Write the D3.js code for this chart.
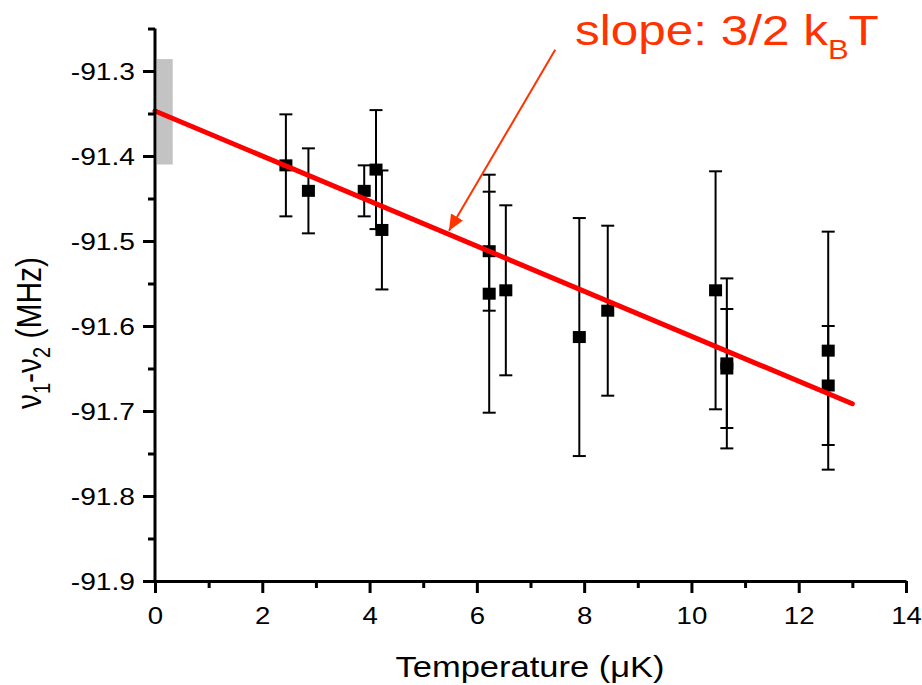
<!DOCTYPE html>
<html>
<head>
<meta charset="utf-8">
<script src="https://cdn.jsdelivr.net/npm/d3@7"></script>
<style>
  body { margin: 0; background: #fff; }
  svg text { font-family: "Liberation Sans", Arial, sans-serif; }
</style>
</head>
<body>
<svg id="chart" width="922" height="685"></svg>
<script>
// measured points: temperature (uK), nu1-nu2 (MHz), error bar half-width
const temps = [2.44, 2.86, 3.90, 4.12, 4.23, 6.23, 6.23, 6.54, 7.91, 8.44, 10.45, 10.66, 10.66, 12.55, 12.55];
const freqs = [-91.411, -91.441, -91.441, -91.416, -91.487, -91.512, -91.562, -91.558, -91.613, -91.582, -91.558, -91.644, -91.650, -91.629, -91.670];
const errs  = [0.06, 0.05, 0.03, 0.07, 0.07, 0.07, 0.14, 0.10, 0.14, 0.10, 0.14, 0.10, 0.07, 0.14, 0.07];

// linear fit and intercept uncertainty band
const fitIntercept = -91.347;
const fitSlope     = -0.0265;
const fitRange     = [0, 13];
const bandX        = [0, 0.33];
const bandY        = [-91.41, -91.286];

// axis ticks
const xTicks      = [0, 2, 4, 6, 8, 10, 12, 14];
const xMinorTicks = [1, 3, 5, 7, 9, 11, 13];
const yTicks      = [-91.9, -91.8, -91.7, -91.6, -91.5, -91.4, -91.3];
const yMinorTicks = [-91.85, -91.75, -91.65, -91.55, -91.45, -91.35, -91.25];

// annotation (data coords)
const arrowFrom = [7.46, -91.275];
const arrowTo   = [5.48, -91.488];
const labelAt   = [7.83, -91.269];

const svg = d3.select("#chart");
const stretch = 1.15;   // source image is a bit wider than tall

const x = d3.scaleLinear().domain([0, 14]).range([155, 906]);
const y = d3.scaleLinear().domain([-91.9, -91.25]).range([581, 28.5]);

// gray band at T=0
svg.append("rect")
  .attr("x", x(bandX[0]) + 2)
  .attr("y", y(bandY[1]))
  .attr("width", x(bandX[1]) - x(bandX[0]) - 2)
  .attr("height", y(bandY[0]) - y(bandY[1]))
  .attr("fill", "#c3c3c3");

// error bars
const pts = temps.map((t, i) => ({ t, v: freqs[i], e: errs[i] }));
const eb = svg.append("g").attr("stroke", "#000").attr("stroke-width", 2);
eb.selectAll("line.v")
  .data(pts)
  .join("line")
    .attr("class", "v")
    .attr("x1", d => x(d.t)).attr("x2", d => x(d.t))
    .attr("y1", d => y(d.v - d.e)).attr("y2", d => y(d.v + d.e));
eb.selectAll("line.cap")
  .data(pts.flatMap(d => [{ t: d.t, v: d.v - d.e }, { t: d.t, v: d.v + d.e }]))
  .join("line")
    .attr("class", "cap")
    .attr("x1", d => x(d.t) - 6.5).attr("x2", d => x(d.t) + 6.5)
    .attr("y1", d => y(d.v)).attr("y2", d => y(d.v));

// square markers
svg.append("g")
  .selectAll("rect")
  .data(pts)
  .join("rect")
    .attr("x", d => x(d.t) - 6.5)
    .attr("y", d => y(d.v) - 6)
    .attr("width", 13)
    .attr("height", 12)
    .attr("fill", "#000");

// fit line
svg.append("line")
  .attr("x1", x(fitRange[0])).attr("y1", y(fitIntercept + fitSlope * fitRange[0]))
  .attr("x2", x(fitRange[1])).attr("y2", y(fitIntercept + fitSlope * fitRange[1]))
  .attr("stroke", "#ff0000")
  .attr("stroke-width", 5)
  .attr("stroke-linecap", "round");

// axes
function styleAxis(g) {
  g.select(".domain").attr("stroke", "#000").attr("stroke-width", 3);
  g.selectAll(".tick line").attr("stroke", "#000").attr("stroke-width", 3);
}

const xAxis = svg.append("g")
  .attr("transform", "translate(0,581)")
  .call(d3.axisBottom(x).tickValues(xTicks).tickSize(12).tickSizeOuter(0));
xAxis.call(styleAxis);
xAxis.selectAll(".tick text")
  .attr("y", 0).attr("dy", null)
  .attr("transform", `translate(0,43) scale(${stretch},1)`)
  .style("font-size", "24px")
  .attr("fill", "#000");

svg.append("g")
  .attr("transform", "translate(0,581)")
  .call(d3.axisBottom(x).tickValues(xMinorTicks).tickSize(7).tickFormat(""))
  .call(g => g.select(".domain").remove())
  .call(styleAxis);

const yAxis = svg.append("g")
  .attr("transform", "translate(155,0)")
  .call(d3.axisLeft(y).tickValues(yTicks).tickSize(12).tickSizeOuter(0)
    .tickFormat(d3.format(".1f")));
yAxis.call(styleAxis);
yAxis.select(".domain").attr("d", `M0,${y(-91.25)}V${y(-91.9) + 1.5}`);
yAxis.selectAll(".tick text")
  .attr("x", 0).attr("dy", "0.36em")
  .attr("transform", `translate(-20,0) scale(${stretch},1)`)
  .style("font-size", "24.5px")
  .attr("fill", "#000")
  .text(d => d3.format(".1f")(d).replace("\u2212", "-"));

svg.append("g")
  .attr("transform", "translate(155,0)")
  .call(d3.axisLeft(y).tickValues(yMinorTicks).tickSize(7).tickFormat(""))
  .call(g => g.select(".domain").remove())
  .call(styleAxis);

// axis titles
svg.append("g")
  .attr("transform", `translate(530,677) scale(${stretch},1)`)
  .append("text")
    .attr("text-anchor", "middle")
    .style("font-size", "30px")
    .text("Temperature (\u03bcK)");

const yl = svg.append("g")
  .attr("transform", `translate(41,333) scale(${stretch},1) rotate(-90)`)
  .append("text")
    .attr("text-anchor", "middle")
    .style("font-size", "30px");
yl.append("tspan").text("\u03bd");
yl.append("tspan").attr("dy", 8).style("font-size", "20px").text("1");
yl.append("tspan").attr("dy", -8).text("-\u03bd");
yl.append("tspan").attr("dy", 8).style("font-size", "20px").text("2");
yl.append("tspan").attr("dy", -8).text(" (MHz)");

// annotation arrow
svg.append("defs").append("marker")
  .attr("id", "head")
  .attr("markerUnits", "userSpaceOnUse")
  .attr("viewBox", "0 0 16 14")
  .attr("refX", 16).attr("refY", 7)
  .attr("markerWidth", 16).attr("markerHeight", 14)
  .attr("orient", "auto")
  .append("path")
    .attr("d", "M0,0L16,7L0,14Z")
    .attr("fill", "#ff3300");

svg.append("line")
  .attr("x1", x(arrowFrom[0])).attr("y1", y(arrowFrom[1]))
  .attr("x2", x(arrowTo[0])).attr("y2", y(arrowTo[1]))
  .attr("stroke", "#ff3300")
  .attr("stroke-width", 2)
  .attr("marker-end", "url(#head)");

const sl = svg.append("g")
  .attr("transform", `translate(${x(labelAt[0])},${y(labelAt[1])}) scale(${stretch},1)`)
  .append("text")
    .attr("fill", "#ff3300")
    .style("font-size", "43px");
sl.append("tspan").text("slope: 3/2 k");
sl.append("tspan").attr("dy", 14).style("font-size", "27px").text("B");
sl.append("tspan").attr("dy", -14).text("T");
</script>
</body>
</html>
